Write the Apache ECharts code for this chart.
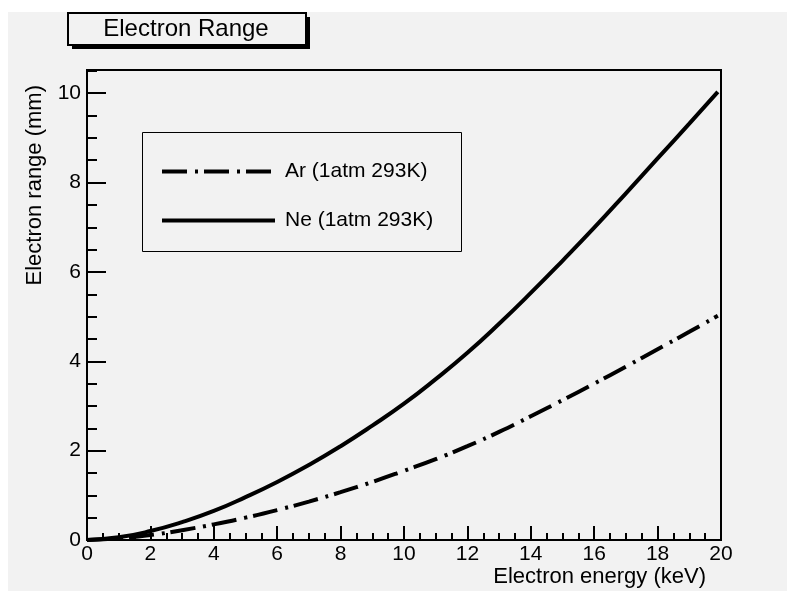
<!DOCTYPE html>
<html>
<head>
<meta charset="utf-8">
<title>Electron Range</title>
<script src="https://cdn.jsdelivr.net/npm/echarts@6/dist/echarts.min.js"></script>
<style>
  html, body { margin: 0; padding: 0; background: #ffffff; }
  #chart { width: 787px; height: 591px; }
</style>
</head>
<body>
<div id="chart"></div>
<script>
// Electron energy (keV) sampled along both curves
const energyKeV = [0, 1, 2, 3, 4, 5, 6, 7, 8, 9, 10, 11, 12, 13, 14, 15, 16, 17, 18, 19, 19.9];
// Electron range (mm) in argon, 1 atm, 293 K
const rangeAr = [0, 0.04, 0.11, 0.22, 0.35, 0.50, 0.67, 0.86, 1.07, 1.30, 1.55, 1.81, 2.10, 2.42, 2.77, 3.13, 3.50, 3.88, 4.27, 4.66, 5.02];
// Electron range (mm) in neon, 1 atm, 293 K
const rangeNe = [0, 0.06, 0.20, 0.40, 0.65, 0.96, 1.30, 1.68, 2.10, 2.56, 3.05, 3.60, 4.19, 4.84, 5.53, 6.25, 6.99, 7.76, 8.54, 9.32, 10.03];

const seriesNames = ['Ar (1atm 293K)', 'Ne (1atm 293K)'];
const FONT = '"Liberation Sans", Arial, Helvetica, sans-serif';
const BG = '#f2f2f2';

const pairs = ys => energyKeV.map((e, i) => [e, ys[i]]);

const chart = echarts.init(document.getElementById('chart'), null, { renderer: 'canvas' });

chart.setOption({
  backgroundColor: '#ffffff',
  animation: false,
  textStyle: { fontFamily: FONT, color: '#000' },
  grid: {
    left: 87, top: 70, right: 66, bottom: 51,
    show: true, borderColor: '#000', borderWidth: 2, backgroundColor: 'transparent',
    outerBoundsMode: 'none'
  },
  xAxis: {
    type: 'value', min: 0, max: 20, interval: 2,
    axisLine: { show: true, onZero: false, lineStyle: { color: '#000', width: 2 } },
    axisTick: { show: true, inside: true, length: 14, lineStyle: { color: '#000', width: 2 } },
    minorTick: { show: true, splitNumber: 4, length: 7, lineStyle: { color: '#000', width: 2 } },
    axisLabel: { fontSize: 21, color: '#000', margin: 4, fontFamily: FONT },
    splitLine: { show: false }
  },
  yAxis: {
    type: 'value', min: 0, max: 10.52, interval: 2,
    axisLine: { show: true, onZero: false, lineStyle: { color: '#000', width: 2 } },
    axisTick: { show: true, inside: true, length: 19, lineStyle: { color: '#000', width: 2 } },
    minorTick: { show: true, splitNumber: 4, length: 10, lineStyle: { color: '#000', width: 2 } },
    axisLabel: { fontSize: 21, color: '#000', margin: 6, fontFamily: FONT, showMaxLabel: false },
    splitLine: { show: false }
  },
  legend: {
    orient: 'vertical', left: 160, top: 161, padding: 0,
    itemWidth: 113, itemHeight: 20, itemGap: 28,
    itemStyle: { color: 'transparent', borderColor: 'transparent', borderWidth: 0 },
    lineStyle: { width: 4 },
    textStyle: { fontSize: 21, color: '#000', fontFamily: FONT, padding: [0, 0, 0, 5] },
    data: seriesNames
  },
  series: [
    {
      name: seriesNames[0], type: 'line', data: pairs(rangeAr), symbol: 'none', smooth: 0.5,
      lineStyle: { color: '#000', width: 4, type: [25, 8, 3, 6], cap: 'butt' },
      itemStyle: { color: '#000' }
    },
    {
      name: seriesNames[1], type: 'line', data: pairs(rangeNe), symbol: 'none', smooth: 0.5,
      lineStyle: { color: '#000', width: 4, type: 'solid' },
      itemStyle: { color: '#000' }
    }
  ],
  graphic: [
    // pad background
    { type: 'rect', z: -10, shape: { x: 8, y: 12, width: 779, height: 579 }, style: { fill: BG } },
    // title box with drop shadow
    { type: 'rect', z: 1, shape: { x: 72, y: 17, width: 238, height: 32 }, style: { fill: '#000' } },
    { type: 'rect', z: 2, shape: { x: 68, y: 13, width: 238, height: 32 }, style: { fill: BG, stroke: '#000', lineWidth: 2 } },
    { type: 'text', z: 3, x: 186, y: 29, style: { text: 'Electron Range', font: '24px ' + FONT, fill: '#000', align: 'center', verticalAlign: 'middle' } },
    // legend frame
    { type: 'rect', z: 1, shape: { x: 142.5, y: 132.5, width: 319, height: 119 }, style: { fill: BG, stroke: '#000', lineWidth: 1 } },
    // axis titles
    { type: 'text', z: 3, x: 706, y: 577, style: { text: 'Electron energy (keV)', font: '22px ' + FONT, fill: '#000', align: 'right', verticalAlign: 'middle' } },
    { type: 'text', z: 3, x: 35, y: 85, rotation: Math.PI / 2, style: { text: 'Electron range (mm)', font: '22px ' + FONT, fill: '#000', align: 'right', verticalAlign: 'middle' } }
  ]
});
</script>
</body>
</html>
